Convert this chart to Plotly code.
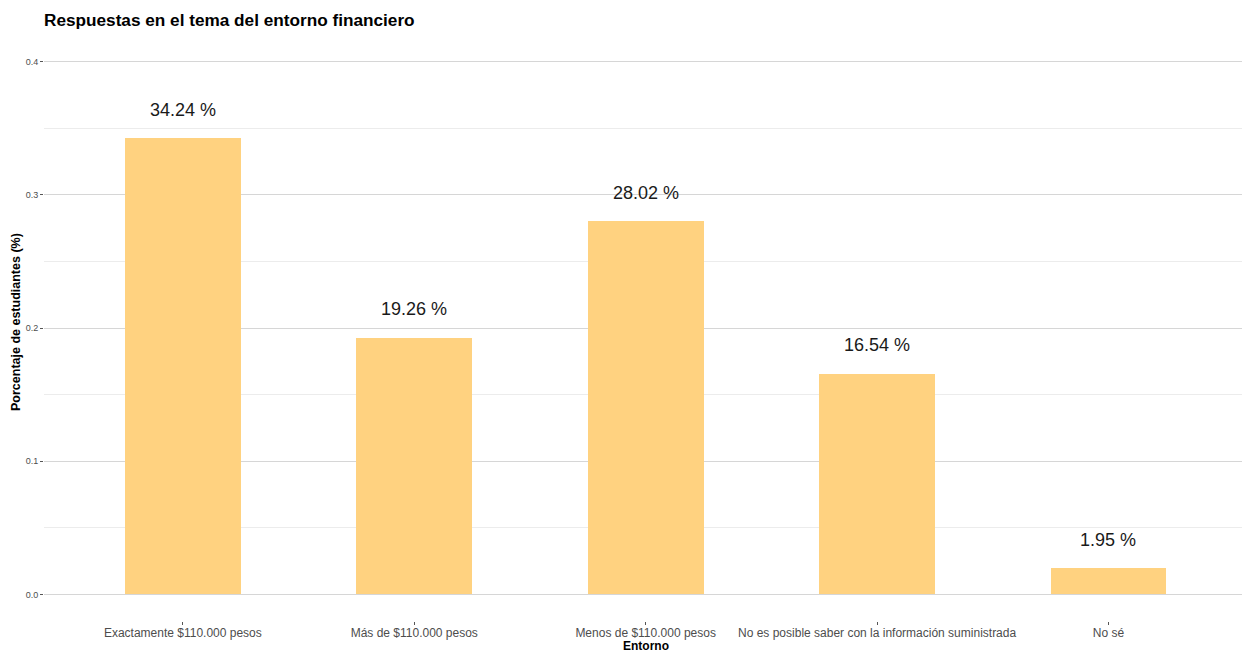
import plotly.graph_objects as go

categories = ["Exactamente $110.000 pesos", "Más de $110.000 pesos", "Menos de $110.000 pesos",
              "No es posible saber con la información suministrada", "No sé"]
values = [0.3424, 0.1926, 0.2802, 0.1654, 0.0195]
labels = ["34.24 %", "19.26 %", "28.02 %", "16.54 %", "1.95 %"]
y_ticks = [0.0, 0.1, 0.2, 0.3, 0.4]

W, H = 1242, 652
L, R, T = 44, 0, 35
B = H - 621

fig = go.Figure()
fig.add_trace(go.Bar(
    x=list(range(len(categories))), y=values, width=0.5,
    marker=dict(color="#FFD280", line=dict(width=0)),
    hoverinfo="skip",
))
for i, (v, t) in enumerate(zip(values, labels)):
    fig.add_annotation(x=i, y=v + 0.0215, text=t, showarrow=False, xref="x", yref="y",
                       font=dict(family="Liberation Sans, Arial", size=18, color="#1a1a1a"),
                       xanchor="center", yanchor="middle")

fig.add_annotation(text="<b>Respuestas en el tema del entorno financiero</b>", xref="paper", yref="paper",
                   x=0, xshift=-2, y=1, yshift=T - 20, xanchor="left", yanchor="middle", showarrow=False,
                   font=dict(family="Liberation Sans, Arial", size=17.2, color="#000000"))
fig.add_annotation(text="<b>Porcentaje de estudiantes (%)</b>", xref="paper", yref="paper",
                   x=0, xshift=-(L - 16), y=1, yshift=-(322 - T),
                   textangle=-90, xanchor="center", yanchor="middle", showarrow=False,
                   font=dict(family="Liberation Sans, Arial", size=12.5, color="#000000"))
fig.add_annotation(text="<b>Entorno</b>", xref="x", yref="paper", x=2, y=0,
                   yshift=-(646 - (H - B)),
                   xanchor="center", yanchor="middle", showarrow=False,
                   font=dict(family="Liberation Sans, Arial", size=12, color="#000000"))

fig.update_layout(
    width=W, height=H, margin=dict(l=L, r=R, t=T, b=B, autoexpand=False),
    plot_bgcolor="white", paper_bgcolor="white", showlegend=False, bargap=0,
    xaxis=dict(range=[-0.6, 4.577], tickmode="array", tickvals=list(range(len(categories))),
               ticktext=categories, showgrid=False, zeroline=False, ticks="outside", ticklen=3,
               tickcolor="#555555", tickwidth=1, ticklabelstandoff=-2,
               tickfont=dict(family="Liberation Sans, Arial", size=12, color="#4d4d4d")),
    yaxis=dict(range=[-0.02, 0.42], tickmode="array", tickvals=y_ticks,
               ticktext=["0.0", "0.1", "0.2", "0.3", "0.4"], showgrid=True, gridcolor="#d6d6d6",
               gridwidth=1, zeroline=False, ticks="outside", ticklen=3, tickcolor="#555555",
               tickfont=dict(family="Liberation Sans, Arial", size=9, color="#4d4d4d"),
               minor=dict(tickvals=[0.05, 0.15, 0.25, 0.35], showgrid=True, gridcolor="#ececec",
                          gridwidth=1, ticks="")),
)
fig.write_html(
    "out.html",
    config={"displayModeBar": False},
    post_script="document.body.style.margin='0';document.documentElement.style.overflow='hidden';document.body.style.overflow='hidden';",
)
